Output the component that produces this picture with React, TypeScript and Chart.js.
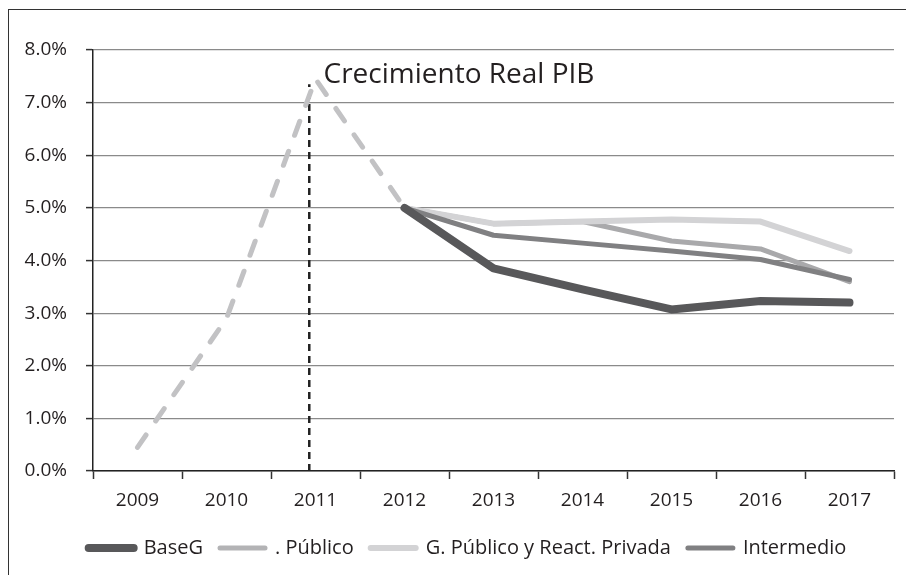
import React, { useEffect, useRef } from "react";
import { Chart, registerables } from "chart.js";

Chart.register(...registerables);

const years = ["2009", "2010", "2011", "2012", "2013", "2014", "2015", "2016", "2017"];
const baseG = [null, null, null, 5.0, 3.85, 3.45, 3.07, 3.23, 3.2];
const publico = [0.45, 2.9, 7.45, 5.0, 4.7, 4.74, 4.37, 4.22, 3.6];
const gPublicoReact = [null, null, null, 5.0, 4.7, 4.74, 4.78, 4.74, 4.18];
const intermedio = [null, null, null, 5.0, 4.48, 4.33, 4.18, 4.02, 3.64];
const historicalEndIndex = 3;
const seriesNames = ["BaseG", ". Público", "G. Público y React. Privada", "Intermedio"];
const yMin = 0;
const yMax = 8;
const yStep = 1;
const chartTitle = "Crecimiento Real PIB";
const markerIndex = 1.93;
const markerTop = 7.35;

const FONT = "'Open Sans', 'Noto Sans', sans-serif";
const TEXT = "#231f20";

const annotations = {
  id: "annotations",
  afterLayout(chart: any) {
    // centre the legend row like the original (shifted right of the canvas centre)
    if (chart.legend) chart.legend.left += 32;
  },
  beforeDatasetsDraw(chart: any) {
    const { ctx, scales } = chart;
    const x = scales.x.getPixelForValue(markerIndex);
    const y0 = scales.y.getPixelForValue(yMin);
    const y1 = scales.y.getPixelForValue(markerTop);
    ctx.save();
    ctx.strokeStyle = "#222222";
    ctx.lineWidth = 2.5;
    ctx.setLineDash([7, 5]);
    ctx.beginPath();
    ctx.moveTo(x, y0);
    ctx.lineTo(x, y1);
    ctx.stroke();
    ctx.restore();
  },
  afterDraw(chart: any) {
    const { ctx, scales, chartArea } = chart;
    const x = scales.x.getPixelForValue(2) + 8;
    ctx.save();
    ctx.font = `28px ${FONT}`;
    ctx.fillStyle = TEXT;
    ctx.textBaseline = "alphabetic";
    ctx.textAlign = "left";
    ctx.fillText(chartTitle, x, chartArea.top + 33);
    ctx.restore();
  },
};

export default function App() {
  const ref = useRef<HTMLCanvasElement>(null);

  useEffect(() => {
    if (!ref.current) return;
    const common = {
      pointRadius: 0,
      pointHoverRadius: 0,
      borderCapStyle: "round",
      borderJoinStyle: "round",
      fill: false,
      tension: 0,
    };
    const chart = new Chart(ref.current, {
      type: "line",
      data: {
        labels: years,
        datasets: [
          { ...common, label: seriesNames[0], data: baseG, borderColor: "#58585a", backgroundColor: "#58585a", borderWidth: 8, order: 0 },
          {
            ...common,
            label: seriesNames[1],
            data: publico,
            borderColor: "#a9a9ab",
            backgroundColor: "#a9a9ab",
            borderWidth: 5,
            order: 3,
            segment: {
              borderDash: (c: any) => (c.p1DataIndex <= historicalEndIndex ? [15, 17] : undefined),
              borderColor: (c: any) => (c.p1DataIndex <= historicalEndIndex ? "#c2c2c4" : undefined),
            },
          },
          { ...common, label: seriesNames[2], data: gPublicoReact, borderColor: "#d3d3d5", backgroundColor: "#d3d3d5", borderWidth: 6, order: 2 },
          { ...common, label: seriesNames[3], data: intermedio, borderColor: "#808082", backgroundColor: "#808082", borderWidth: 5, order: 1 },
        ],
      } as any,
      options: {
        animation: false,
        responsive: false,
        devicePixelRatio: 1,
        layout: { padding: { top: 40, right: 31, bottom: 7, left: 0 } },
        plugins: {
          title: { display: false },
          tooltip: { enabled: false },
          legend: {
            display: true,
            position: "bottom",
            labels: {
              usePointStyle: true,
              pointStyle: "line",
              pointStyleWidth: 45,
              padding: 17,
              color: TEXT,
              font: { family: FONT, size: 20 },
              generateLabels(chart: any) {
                const items = Chart.defaults.plugins.legend.labels.generateLabels(chart);
                items.forEach((it: any) => {
                  it.lineDash = [];
                  it.pointStyle = "line";
                  it.lineCap = "round";
                  if (it.datasetIndex === 1) it.strokeStyle = "#b3b3b5";
                });
                return items.sort((a: any, b: any) => a.datasetIndex - b.datasetIndex);
              },
            },
          },
        },
        scales: {
          x: {
            offset: true,
            grid: {
              offset: true,
              drawOnChartArea: false,
              drawTicks: true,
              tickLength: 8,
              tickColor: "#333333",
              tickWidth: 1.5,
            },
            border: { display: true, color: "#222222", width: 1.5 },
            ticks: {
              color: TEXT,
              font: { family: FONT, size: 19 },
              padding: 10,
              maxRotation: 0,
              autoSkip: false,
            },
            afterFit(scale: any) {
              scale.height = 50;
            },
          },
          y: {
            min: yMin,
            max: yMax,
            grid: {
              color: "#8a8a8a",
              lineWidth: 1.2,
              drawTicks: true,
              tickLength: 7,
              tickColor: "#333333",
              tickWidth: 1.5,
            },
            border: { display: true, color: "#222222", width: 1.5 },
            ticks: {
              stepSize: yStep,
              color: TEXT,
              font: { family: FONT, size: 19 },
              padding: 19,
              callback: (v: any) => Number(v).toFixed(1) + "%",
            },
            afterFit(scale: any) {
              scale.width = 84;
            },
          },
        },
      } as any,
      plugins: [annotations],
    });
    return () => chart.destroy();
  }, []);

  return (
    <div
      style={{
        position: "fixed",
        left: 8,
        top: 9,
        width: 898,
        height: 566,
        overflow: "hidden",
        borderLeft: "1.3px solid #333",
        borderTop: "1.3px solid #333",
        background: "#fff",
      }}
    >
      <canvas ref={ref} width={916} height={565} style={{ display: "block" }} />
    </div>
  );
}
